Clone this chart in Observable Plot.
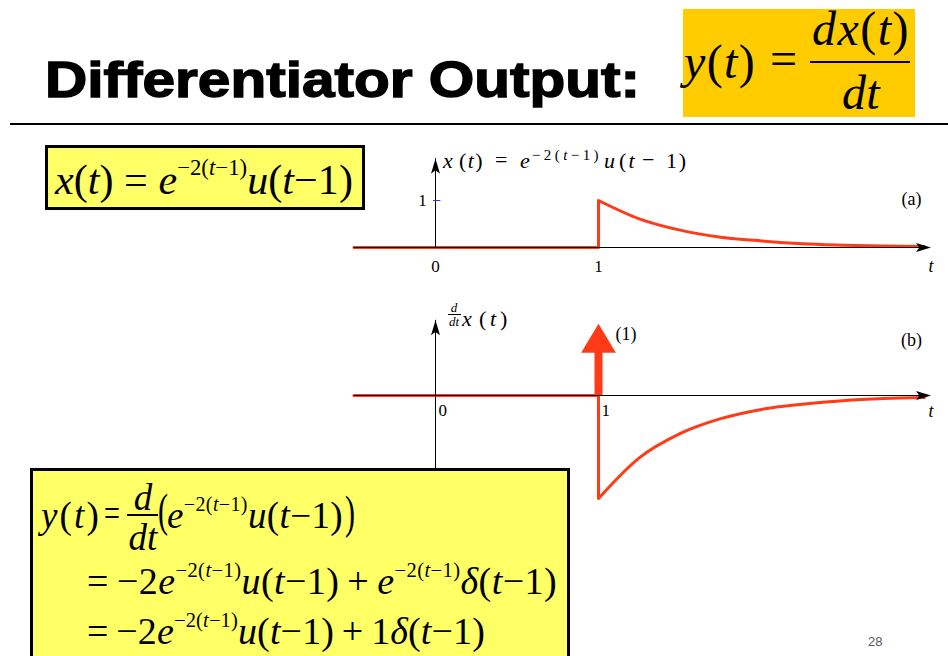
<!DOCTYPE html>
<html>
<head>
<meta charset="utf-8">
<script src="https://cdn.jsdelivr.net/npm/d3@7"></script>
<script src="https://cdn.jsdelivr.net/npm/@observablehq/plot@0.6"></script>
<style>
  body { margin: 0; background: #fff; }
  #slide { position: relative; width: 948px; height: 656px; overflow: hidden; background: #fff; }
  .abs { position: absolute; }
  .eq { position: absolute; font-family: "Liberation Serif", "Times New Roman", serif; white-space: nowrap; line-height: 1; color: #000; transform-origin: 0 0; }
  .eq i { font-style: italic; }
  .eq sup { font-size: 0.54em; position: relative; top: -0.85em; vertical-align: baseline; line-height: 0; }
  .title { position: absolute; font-family: "Liberation Sans", Arial, sans-serif; font-weight: bold; white-space: nowrap; line-height: 1; transform-origin: 0 0; -webkit-text-stroke: 1.4px #000; }
  .box { position: absolute; background: #ffff66; border: 3px solid #000; box-sizing: border-box; }
  .gold { position: absolute; background: #ffcc00; }
  .bar { position: absolute; background: #000; }
  .chart { position: absolute; }
  .chart svg { overflow: visible; }
</style>
</head>
<body>
<div id="slide"></div>
<script>
// ---- signal data ----
// x(t) = e^{-2(t-1)} u(t-1), sampled at quarter steps after the step at t = 1
const tDecay  = [1, 1.25, 1.5, 1.75, 2, 2.25, 2.5, 2.75, 3];
const xDecay  = [1, 0.61, 0.37, 0.22, 0.14, 0.08, 0.05, 0.03, 0.02];
// derivative: -2 e^{-2(t-1)} u(t-1) part
const dxDecay = [-2, -1.21, -0.74, -0.45, -0.27, -0.17, -0.10, -0.06, -0.04];
// zero segment before the step
const tZero = [-0.5, 1];
// impulse e^{0} δ(t-1) with area 1
const impulseT = 1;
const impulseArea = 1;
// axis ticks
const tickT = [0, 1];
const tickLabels = ["0", "1"];
const yTickA = 1;
const panelTags = ["(a)", "(b)"];
// axis extents (t and value ranges of the drawn axes)
const axisT = [-0.5, 3.04];
const axisYA = [0, 1.89];
const axisYB = [-1.6, 1.46];

const red = "#ff3a17";
const serif = "Liberation Serif, Times New Roman, serif";

// filled "stealth" arrowhead, tip at the origin, pointing up
const stealth = {
  draw(ctx, size) {
    const r = Math.sqrt(size / Math.PI);
    const L = r, w = r * 0.6;
    ctx.moveTo(0, 0);
    ctx.lineTo(w / 2, L);
    ctx.lineTo(0, L * 0.78);
    ctx.lineTo(-w / 2, L);
    ctx.closePath();
  }
};
// impulse head: triangle whose origin sits on the impulse value
const impulseHead = {
  draw(ctx, size) {
    const r = Math.sqrt(size / Math.PI);
    const h = r, w = r * 1.2;
    ctx.moveTo(0, -h * 0.7);
    ctx.lineTo(w / 2, h * 0.3);
    ctx.lineTo(-w / 2, h * 0.3);
    ctx.closePath();
  }
};

const zeroRows = tZero.map(t => ({t, v: 0}));
const rowsA = tDecay.map((t, i) => ({t, v: xDecay[i]}));
const rowsB = tDecay.map((t, i) => ({t, v: dxDecay[i]}));
const tickRows = tickT.map((t, i) => ({t, label: tickLabels[i]}));

const xScale = {domain: [0, 1], range: [95, 258], axis: null};

function axisMarks(yExtent) {
  return [
    Plot.ruleY([0], {x1: axisT[0], x2: axisT[1] - 0.03, stroke: "#000", strokeWidth: 1}),
    Plot.dot([axisT[1]], {x: d => d, y: 0, symbol: stealth, r: 15, rotate: 90, fill: "#000", stroke: "none"}),
    Plot.ruleX([0], {y1: yExtent[0], y2: yExtent[1], stroke: "#000", strokeWidth: 1}),
    Plot.dot([0], {x: d => d, y: yExtent[1], symbol: stealth, r: 15, fill: "#000", stroke: "none"})
  ];
}

const chartA = Plot.plot({
  width: 608, height: 150, margin: 0,
  x: xScale,
  y: {domain: [0, 1], range: [107, 60], axis: null},
  marks: [
    Plot.line(zeroRows, {x: "t", y: "v", stroke: red, strokeWidth: 3}),
    Plot.ruleX([impulseT], {y1: 0, y2: xDecay[0], stroke: red, strokeWidth: 3}),
    Plot.line(rowsA, {x: "t", y: "v", curve: "monotone-x", stroke: red, strokeWidth: 3}),
    ...axisMarks(axisYA),
    Plot.link([yTickA], {x1: -0.015, x2: 0.03, y1: d => d, y2: d => d, stroke: "#1a3cff", strokeWidth: 1}),
    Plot.text([yTickA], {x: 0, y: d => d, text: d => String(d), dx: -13, fontSize: 17, fontFamily: serif, fill: "#000"}),
    Plot.text(tickRows, {x: "t", y: 0, text: "label", dy: 19, fontSize: 17, fontFamily: serif, fill: "#000"}),
    Plot.text(["t"], {x: axisT[1], y: 0, dy: 19, text: d => d, fontSize: 18, fontStyle: "italic", fontFamily: serif, fill: "#000"}),
    Plot.text([panelTags[0]], {x: 2.92, y: 1, dy: -1, text: d => d, fontSize: 18, fontFamily: serif, fill: "#000"})
  ]
});

const chartB = Plot.plot({
  width: 608, height: 220, margin: 0,
  x: xScale,
  y: {domain: [-2, 0], range: [208, 105], axis: null},
  marks: [
    Plot.line(zeroRows, {x: "t", y: "v", stroke: red, strokeWidth: 3}),
    Plot.ruleX([impulseT], {y1: 0, y2: dxDecay[0], stroke: red, strokeWidth: 3}),
    Plot.line(rowsB, {x: "t", y: "v", curve: "monotone-x", stroke: red, strokeWidth: 3}),
    Plot.ruleX([impulseT], {y1: 0, y2: impulseArea, stroke: red, strokeWidth: 8}),
    Plot.dot([impulseT], {x: d => d, y: impulseArea, symbol: impulseHead, r: 29, fill: red, stroke: "none"}),
    ...axisMarks(axisYB),
    Plot.text([impulseArea], {x: impulseT, y: d => d, text: d => `(${d})`, dx: 17, dy: -10, textAnchor: "start", fontSize: 18, fontFamily: serif, fill: "#000"}),
    Plot.text(tickRows, {x: "t", y: 0, text: "label", dx: 3, dy: 15, textAnchor: "start", fontSize: 17, fontFamily: serif, fill: "#000"}),
    Plot.text(["t"], {x: axisT[1], y: 0, dy: 16, text: d => d, fontSize: 18, fontStyle: "italic", fontFamily: serif, fill: "#000"}),
    Plot.text([panelTags[1]], {x: 2.92, y: 0, dy: -55, text: d => d, fontSize: 18, fontFamily: serif, fill: "#000"})
  ]
});

const slide = document.getElementById("slide");

function el(cls, style, html) {
  const d = document.createElement("div");
  d.className = cls;
  Object.assign(d.style, style);
  if (html != null) d.innerHTML = html;
  slide.appendChild(d);
  return d;
}
// place serif math text by its baseline; a target width is reached by
// letter spacing when the text is narrower, by horizontal squeeze otherwise
function put(html, x, base, fs, opt = {}) {
  const d = el("eq", {fontSize: fs + "px", left: x + "px", top: (base - 0.8375 * fs) + "px"}, html);
  const w = d.getBoundingClientRect().width;
  let width = w;
  if (opt.w) {
    if (w < opt.w) {
      const n = Math.max(1, d.textContent.length);
      d.style.letterSpacing = ((opt.w - w) / n) + "px";
    } else {
      d.style.transform = `scaleX(${opt.w / w})`;
    }
    width = opt.w;
  }
  if (opt.center) d.style.left = (x - width / 2) + "px";
  return d;
}

// charts
const wrapA = el("chart", {left: "340px", top: "140px"});
wrapA.appendChild(chartA);
const wrapB = el("chart", {left: "340px", top: "290px"});
wrapB.appendChild(chartB);

// heading
const title = el("title", {left: "45px", fontSize: "50px"}, "Differentiator Output:");
title.style.top = (97 - 0.8465 * 50) + "px";
const tw = title.getBoundingClientRect().width;
title.style.transform = `scaleX(${595 / tw})`;
el("bar", {left: "10px", top: "123px", width: "938px", height: "2px"});

// gold formula box
el("gold", {left: "683px", top: "9px", width: "232px", height: "108px"});
put("<i>y</i>(<i>t</i>)", 684, 78, 48, {w: 72});
put("=", 770, 75, 48, {w: 28});
put("<i>dx</i>(<i>t</i>)", 861, 45, 48, {center: true, w: 98});
el("bar", {left: "810px", top: "61px", width: "100px", height: "2px"});
put("<i>dt</i>", 861, 109, 48, {center: true, w: 38});

// panel (a) label, set piece by piece
put("<i>x</i>", 443, 168, 22);
put("(<i>t</i>)", 459, 168, 22, {w: 25});
put("=", 495, 167, 22, {w: 18});
put("<i>e</i>", 520, 168, 22);
put("−2(<i>t</i>−1)", 532, 161, 15, {w: 70});
put("<i>u</i>", 604, 168, 22);
put("(<i>t</i>", 619, 168, 22, {w: 18});
put("−", 642, 167, 22, {w: 14});
put("1)", 666, 168, 22, {w: 22});
// panel (b) label
put("<i>d</i>", 454, 312, 13, {center: true});
el("bar", {left: "448px", top: "314px", width: "13px", height: "1px"});
put("<i>dt</i>", 454, 326, 13, {center: true});
put("<i>x</i>", 462, 326, 22);
put("(<i>t</i>)", 479, 326, 22, {w: 32});

// x(t) box
el("box", {left: "45px", top: "145px", width: "320px", height: "65px"});
put("<i>x</i>(<i>t</i>) = <i>e</i><sup>−2(<i>t</i>−1)</sup><i>u</i>(<i>t</i>−1)", 55, 194, 42, {w: 298});

// derivative box
el("box", {left: "30px", top: "468px", width: "540px", height: "220px"});
put("<i>y</i>(<i>t</i>)", 41, 528, 37, {w: 60});
put("=", 104, 526, 37, {w: 16});
put("<i>d</i>", 143, 510, 37, {center: true});
el("bar", {left: "127px", top: "514px", width: "31px", height: "2px"});
put("<i>dt</i>", 143, 550, 37, {center: true});
put("(", 158, 527, 46, {w: 10});
put("<i>e</i><sup>−2(<i>t</i>−1)</sup><i>u</i>(<i>t</i>−1)", 167, 528, 37, {w: 176});
put(")", 345, 529, 46, {w: 10});
put("=&thinsp;−2<i>e</i><sup>−2(<i>t</i>−1)</sup><i>u</i>(<i>t</i>−1)&thinsp;+&thinsp;<i>e</i><sup>−2(<i>t</i>−1)</sup><i>δ</i>(<i>t</i>−1)", 87, 594, 38, {w: 470});
put("=&thinsp;−2<i>e</i><sup>−2(<i>t</i>−1)</sup><i>u</i>(<i>t</i>−1)&thinsp;+&thinsp;1<i>δ</i>(<i>t</i>−1)", 87, 644, 38, {w: 398});

// page number
el("abs", {left: "868px", top: "634px", fontFamily: "Liberation Sans, Arial, sans-serif", fontSize: "13px", color: "#595959"}, "28");
</script>
</body>
</html>
